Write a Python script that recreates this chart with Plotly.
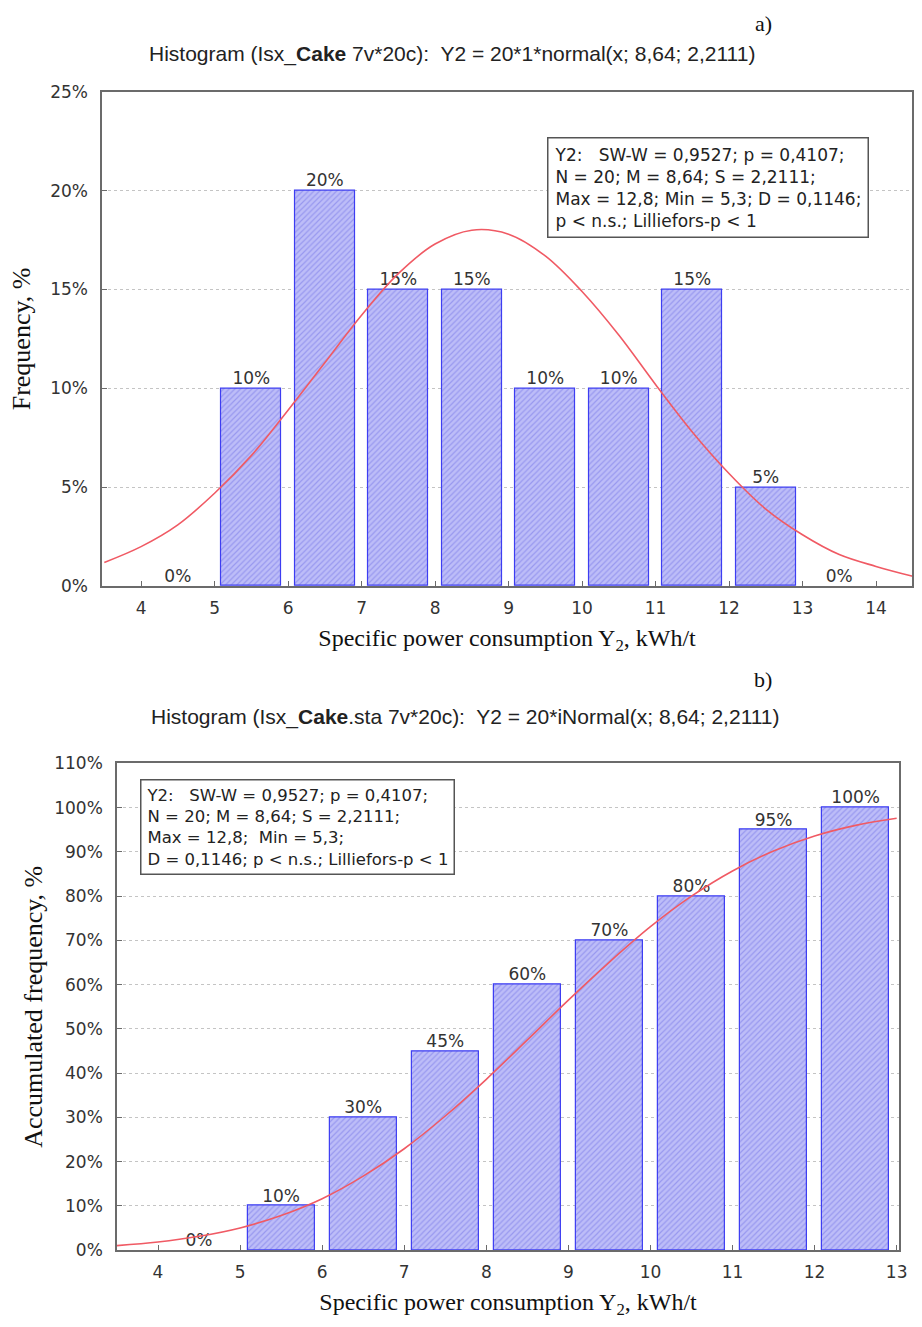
import plotly.graph_objects as go

# ---------------- data ----------------
bin_centers_a = [4.5, 5.5, 6.5, 7.5, 8.5, 9.5, 10.5, 11.5, 12.5, 13.5]
freq_a = [0, 10, 20, 15, 15, 10, 10, 15, 5, 0]

bin_centers_b = [4.5, 5.5, 6.5, 7.5, 8.5, 9.5, 10.5, 11.5, 12.5]
cum_b = [0, 10, 30, 45, 60, 70, 80, 95, 100]

# fitted normal curve, frequency in %
curve_x_a = [3.5, 4.0, 4.5, 5.0, 5.5, 6.0, 6.5, 7.0, 7.5, 8.0, 8.5, 9.0,
             9.5, 10.0, 10.5, 11.0, 11.5, 12.0, 12.5, 13.0, 13.5, 14.0, 14.5]
curve_y_a = [1.2, 2.0, 3.1, 4.7, 6.6, 8.9, 11.3, 13.7, 15.8, 17.3, 18.0, 17.8,
             16.7, 14.9, 12.7, 10.2, 7.8, 5.7, 3.9, 2.6, 1.6, 1.0, 0.5]

# fitted cumulative normal curve, %
curve_x_b = [3.5, 4.0, 4.5, 5.0, 5.5, 6.0, 6.5, 7.0, 7.5, 8.0, 8.5, 9.0,
             9.5, 10.0, 10.5, 11.0, 11.5, 12.0, 12.5, 13.0]
curve_y_b = [1.0, 1.8, 3.1, 5.0, 7.8, 11.6, 16.7, 22.9, 30.3, 38.6, 47.5, 56.5,
             65.1, 73.1, 80.0, 85.7, 90.2, 93.6, 96.0, 97.6]

xticks_a = [4, 5, 6, 7, 8, 9, 10, 11, 12, 13, 14]
xticks_b = [4, 5, 6, 7, 8, 9, 10, 11, 12, 13]
yticks_a = [0, 5, 10, 15, 20, 25]
yticks_b = [0, 10, 20, 30, 40, 50, 60, 70, 80, 90, 100, 110]
ytext_a = ["0%", "5%", "10%", "15%", "20%", "25%"]
ytext_b = ["0%", "10%", "20%", "30%", "40%", "50%", "60%", "70%", "80%", "90%", "100%", "110%"]

stats_a = ["Y2:   SW-W = 0,9527; p = 0,4107;",
           "N = 20; M = 8,64; S = 2,2111;",
           "Max = 12,8; Min = 5,3; D = 0,1146;",
           "p < n.s.; Lilliefors-p < 1"]
stats_b = ["Y2:   SW-W = 0,9527; p = 0,4107;",
           "N = 20; M = 8,64; S = 2,2111;",
           "Max = 12,8;  Min = 5,3;",
           "D = 0,1146; p < n.s.; Lilliefors-p < 1"]

title_a = "Histogram (Isx_<b>Cake</b> 7v*20c):  Y2 = 20*1*normal(x; 8,64; 2,2111)"
title_b = "Histogram (Isx_<b>Cake</b>.sta 7v*20c):  Y2 = 20*iNormal(x; 8,64; 2,2111)"
xtitle = "Specific power consumption Y<sub>2</sub>, kWh/t"

# ---------------- style ----------------
W, H = 922, 1327
SANS = "DejaVu Sans"
ARIAL = "Liberation Sans, Arial, sans-serif"
SERIF = "Liberation Serif, Times New Roman, serif"
TXT = "#333333"
FRAME = "#6b6b6b"
BAR_FILL = "#bdbdf8"
BAR_HATCH = "#7474e6"
BAR_EDGE = "#3d3df2"
CURVE = "#f05a64"


def px_x(p):
    return p / W


def px_y(p):
    return 1 - p / H


def edge_widths(vals):
    return [0 if v == 0 else 1.2 for v in vals]


fig = go.Figure()

# ---- chart a ----
fig.add_trace(go.Bar(
    x=bin_centers_a, y=freq_a, width=0.82, xaxis="x", yaxis="y",
    marker=dict(color=BAR_FILL, line=dict(color=BAR_EDGE, width=edge_widths(freq_a)),
                pattern=dict(shape="/", fgcolor=BAR_HATCH, size=4, solidity=0.3, fillmode="overlay")),
    showlegend=False, hoverinfo="skip"))
fig.add_trace(go.Scatter(
    x=bin_centers_a, y=freq_a, mode="text", text=[f"{v}%" for v in freq_a],
    textposition="top center", textfont=dict(family=SANS, size=17, color=TXT),
    xaxis="x", yaxis="y", showlegend=False, cliponaxis=False, hoverinfo="skip"))
fig.add_trace(go.Scatter(
    x=curve_x_a, y=curve_y_a, mode="lines", line=dict(color=CURVE, width=1.6, shape="spline"),
    xaxis="x", yaxis="y", showlegend=False, hoverinfo="skip"))

# ---- chart b ----
fig.add_trace(go.Bar(
    x=bin_centers_b, y=cum_b, width=0.82, xaxis="x2", yaxis="y2",
    marker=dict(color=BAR_FILL, line=dict(color=BAR_EDGE, width=edge_widths(cum_b)),
                pattern=dict(shape="/", fgcolor=BAR_HATCH, size=4, solidity=0.3, fillmode="overlay")),
    showlegend=False, hoverinfo="skip"))
fig.add_trace(go.Scatter(
    x=bin_centers_b, y=cum_b, mode="text", text=[f"{v}%" for v in cum_b],
    textposition="top center", textfont=dict(family=SANS, size=17, color=TXT),
    xaxis="x2", yaxis="y2", showlegend=False, cliponaxis=False, hoverinfo="skip"))
fig.add_trace(go.Scatter(
    x=curve_x_b, y=curve_y_b, mode="lines", line=dict(color=CURVE, width=1.6, shape="spline"),
    xaxis="x2", yaxis="y2", showlegend=False, hoverinfo="skip"))

axis_common = dict(showline=True, mirror=True, linecolor=FRAME, linewidth=1.5,
                   ticks="inside", ticklen=5, tickcolor=FRAME, zeroline=False,
                   tickfont=dict(family=SANS, size=17, color=TXT))
xt_font = dict(family=SERIF, size=24, color="#111")
yt_font = dict(family=SERIF, size=26, color="#111")

fig.update_layout(
    width=W, height=H, margin=dict(l=0, r=0, t=0, b=0),
    paper_bgcolor="white", plot_bgcolor="white", bargap=0,
    xaxis=dict(domain=[px_x(103), px_x(920)], range=[3.47, 14.49], tickvals=xticks_a,
               showgrid=False, anchor="y", ticklabelstandoff=6,
               title=dict(text=xtitle, font=xt_font, standoff=12),
               **axis_common),
    yaxis=dict(domain=[px_y(585), px_y(83)], range=[0, 25], tickvals=yticks_a, ticktext=ytext_a,
               showgrid=True, gridcolor="#c4c4c4", griddash="dot", gridwidth=1, anchor="x",
               ticklabelstandoff=9,
               title=dict(text="Frequency, %", font=yt_font, standoff=12),
               **axis_common),
    xaxis2=dict(domain=[px_x(118), px_x(907)], range=[3.5, 13.03], tickvals=xticks_b,
                showgrid=False, anchor="y2", ticklabelstandoff=6,
                title=dict(text=xtitle, font=xt_font, standoff=12),
                **axis_common),
    yaxis2=dict(domain=[px_y(1259), px_y(765)], range=[0, 110], tickvals=yticks_b, ticktext=ytext_b,
                showgrid=True, gridcolor="#c4c4c4", griddash="dot", gridwidth=1, anchor="x2",
                ticklabelstandoff=9,
                title=dict(text="Accumulated frequency, %", font=yt_font, standoff=4),
                **axis_common),
)

annotations = [
    dict(text="a)", x=px_x(770), y=px_y(14), xref="paper", yref="paper", showarrow=False,
         font=dict(family=SERIF, size=22, color="#111"), xanchor="center", yanchor="middle"),
    dict(text="b)", x=px_x(770), y=px_y(680), xref="paper", yref="paper", showarrow=False,
         font=dict(family=SERIF, size=22, color="#111"), xanchor="center", yanchor="middle"),
    dict(text=title_a, x=px_x(456), y=px_y(45), xref="paper", yref="paper", showarrow=False,
         font=dict(family=ARIAL, size=21, color="#222"), xanchor="center", yanchor="middle"),
    dict(text=title_b, x=px_x(470), y=px_y(718), xref="paper", yref="paper", showarrow=False,
         font=dict(family=ARIAL, size=21, color="#222"), xanchor="center", yanchor="middle"),
    dict(text="<br>".join(stats_a), x=px_x(552), y=px_y(129), xref="paper", yref="paper",
         showarrow=False, align="left", xanchor="left", yanchor="top",
         font=dict(family=SANS, size=17, color="#222"), bordercolor="#555", borderwidth=1.5,
         borderpad=6, bgcolor="white"),
    dict(text="<br>".join(stats_b), x=px_x(141), y=px_y(781), xref="paper", yref="paper",
         showarrow=False, align="left", xanchor="left", yanchor="top",
         font=dict(family=SANS, size=16.5, color="#222"), bordercolor="#555", borderwidth=1.5,
         borderpad=5, bgcolor="white"),
]
fig.update_layout(annotations=annotations)

fig.write_html("out.html")
